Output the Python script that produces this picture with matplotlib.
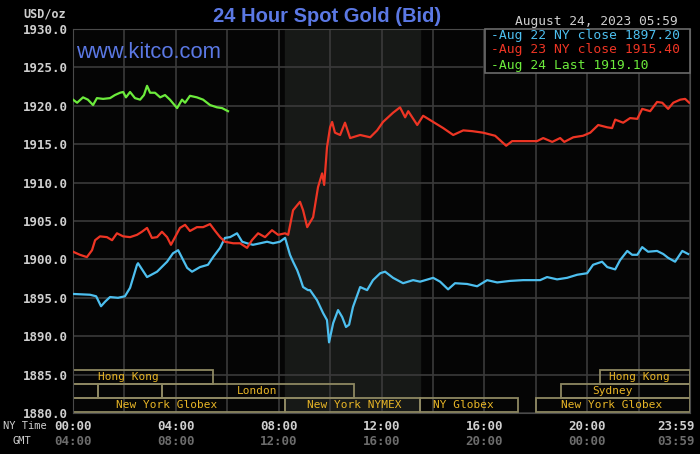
import numpy as np
import matplotlib
matplotlib.use('Agg')
import matplotlib.pyplot as plt
from matplotlib.patches import Rectangle

# Zeit in Stunden (NY time), Preise in USD/oz
t_aug22 = [0.00, 0.66, 0.90, 1.09, 1.25, 1.44, 1.75, 2.02, 2.22, 2.49, 2.53, 2.88, 3.27, 3.66,
           3.89, 4.09, 4.44, 4.63, 4.94, 5.25, 5.45, 5.72, 5.91, 6.11, 6.38, 6.58, 6.77, 7.00,
           7.28, 7.55, 7.78, 8.05, 8.25, 8.44, 8.56, 8.72, 8.83, 8.95, 9.14, 9.22, 9.49, 9.73,
           9.88, 9.96, 10.12, 10.31, 10.47, 10.62, 10.74, 10.89, 11.17, 11.44, 11.67, 11.95,
           12.14, 12.45, 12.84, 13.23, 13.50, 14.01, 14.28, 14.59, 14.86, 15.33, 15.72, 16.11,
           16.50, 17.00, 17.51, 18.17, 18.44, 18.83, 19.22, 19.61, 20.00, 20.23, 20.58, 20.78,
           21.09, 21.28, 21.56, 21.75, 21.95, 22.14, 22.37, 22.72, 22.96, 23.15, 23.42, 23.70, 23.93]
p_aug22 = [1895.5, 1895.4, 1895.2, 1893.9, 1894.5, 1895.1, 1895.0, 1895.2, 1896.3, 1899.3, 1899.5,
           1897.7, 1898.4, 1899.7, 1900.8, 1901.2, 1898.9, 1898.4, 1899.0, 1899.3, 1900.3, 1901.5,
           1902.8, 1902.9, 1903.4, 1902.3, 1902.1, 1901.9, 1902.1, 1902.3, 1902.1, 1902.3, 1902.8,
           1900.6, 1899.7, 1898.6, 1897.6, 1896.4, 1896.0, 1896.0, 1894.7, 1893.0, 1892.1, 1889.2,
           1891.7, 1893.4, 1892.5, 1891.2, 1891.5, 1893.8, 1896.4, 1896.0, 1897.3, 1898.2, 1898.4,
           1897.6, 1896.9, 1897.3, 1897.1, 1897.6, 1897.1, 1896.1, 1896.9, 1896.8, 1896.5, 1897.3,
           1897.0, 1897.2, 1897.3, 1897.3, 1897.7, 1897.4, 1897.6, 1898.0, 1898.2, 1899.3, 1899.7,
           1899.0, 1898.7, 1899.9, 1901.1, 1900.6, 1900.6, 1901.6, 1901.0, 1901.1, 1900.7, 1900.2,
           1899.7, 1901.1, 1900.7]

t_aug23 = [0.00, 0.27, 0.54, 0.74, 0.86, 1.05, 1.32, 1.52, 1.71, 1.95, 2.22, 2.49, 2.68, 2.88,
           3.07, 3.27, 3.46, 3.66, 3.81, 3.97, 4.16, 4.36, 4.55, 4.82, 5.06, 5.33, 5.53, 5.72,
           5.91, 6.23, 6.50, 6.77, 6.96, 7.20, 7.47, 7.74, 7.98, 8.25, 8.37, 8.56, 8.83, 8.95,
           9.11, 9.34, 9.53, 9.69, 9.77, 9.88, 10.00, 10.08, 10.19, 10.39, 10.58, 10.78, 11.17,
           11.56, 11.83, 12.06, 12.45, 12.72, 12.92, 13.04, 13.39, 13.62, 14.01, 14.40, 14.79,
           15.18, 15.53, 15.95, 16.42, 16.85, 17.08, 17.51, 18.05, 18.29, 18.64, 18.95, 19.11,
           19.46, 19.84, 20.12, 20.43, 20.78, 20.97, 21.09, 21.40, 21.67, 21.95, 22.14, 22.45,
           22.72, 22.92, 23.15, 23.35, 23.62, 23.81, 23.97]
p_aug23 = [1901.0, 1900.6, 1900.3, 1901.2, 1902.5, 1903.0, 1902.9, 1902.5, 1903.4, 1903.0, 1902.9,
           1903.2, 1903.6, 1904.1, 1902.8, 1902.9, 1903.6, 1902.9, 1901.9, 1902.9, 1904.1, 1904.5,
           1903.7, 1904.2, 1904.2, 1904.6, 1903.7, 1902.9, 1902.3, 1902.1, 1902.1, 1901.5, 1902.5,
           1903.4, 1902.9, 1903.8, 1903.2, 1903.4, 1903.2, 1906.4, 1907.5, 1906.4, 1904.2, 1905.5,
           1909.4, 1911.2, 1909.7, 1914.6, 1917.2, 1917.9, 1916.5, 1916.2, 1917.8, 1915.8, 1916.2,
           1915.9, 1916.8, 1917.9, 1919.1, 1919.8, 1918.5, 1919.3, 1917.5, 1918.7, 1917.9, 1917.1,
           1916.2, 1916.8, 1916.7, 1916.5, 1916.1, 1914.8, 1915.4, 1915.4, 1915.4, 1915.8, 1915.3,
           1915.8, 1915.3, 1915.9, 1916.1, 1916.5, 1917.5, 1917.2, 1917.1, 1918.2, 1917.8, 1918.4,
           1918.3, 1919.6, 1919.3, 1920.5, 1920.4, 1919.6, 1920.4, 1920.8, 1920.9, 1920.4]

t_aug24 = [0.00, 0.16, 0.39, 0.58, 0.78, 0.93, 1.17, 1.44, 1.63, 1.83, 1.95, 2.06, 2.22, 2.41,
           2.61, 2.76, 2.88, 3.00, 3.19, 3.39, 3.58, 3.77, 4.05, 4.24, 4.36, 4.55, 4.82, 5.06,
           5.33, 5.60, 5.80, 6.03]
p_aug24 = [1920.8, 1920.4, 1921.1, 1920.8, 1920.1, 1921.0, 1920.9, 1921.0, 1921.4, 1921.7, 1921.8,
           1921.1, 1921.8, 1921.0, 1920.8, 1921.4, 1922.6, 1921.7, 1921.7, 1921.1, 1921.4, 1920.8,
           1919.7, 1920.8, 1920.4, 1921.3, 1921.1, 1920.8, 1920.1, 1919.8, 1919.7, 1919.3]

legend_txt = ['-Aug 22 NY close 1897.20', '-Aug 23 NY close 1915.40', '-Aug 24 Last 1919.10']

# Handelszeiten: (Zeile, Start, Ende, Name, Textposition)
sessions = [(0, 0.00, 5.45, 'Hong Kong', 2.14),
            (0, 20.50, 24.0, 'Hong Kong', 22.05),
            (1, 0.00, 0.97, '', 0),
            (1, 0.97, 3.46, '', 0),
            (1, 3.46, 10.93, 'London', 7.16),
            (1, 19.00, 24.0, 'Sydney', 20.97),
            (2, 0.00, 8.25, 'New York Globex', 3.66),
            (2, 8.25, 13.50, 'New York NYMEX', 10.93),
            (2, 13.50, 17.30, 'NY Globex', 15.18),
            (2, 18.00, 24.0, 'New York Globex', 20.97)]
nymex = (8.25, 13.5)

x_ticks = [0, 4, 8, 12, 16, 20, 23.45]
ny_labels = ['00:00', '04:00', '08:00', '12:00', '16:00', '20:00', '23:59']
gmt_labels = ['04:00', '08:00', '12:00', '16:00', '20:00', '00:00', '03:59']

c_blue = '#4DBFEF'
c_red = '#EE3524'
c_green = '#6CEB3C'
c_title = '#5B78E4'
c_grid = '#3a3a3a'
c_tick = '#cfcfcf'
c_gmt = '#6c6c6c'
c_box = '#8e8862'
c_gold = '#E8B526'
mono = 'DejaVu Sans Mono'

W, H = 700, 454
fig = plt.figure(figsize=(7, 4.54), dpi=100, facecolor='black')
ax = fig.add_axes([73/W, 1-413/H, 617/W, 384/H], facecolor='#050505')

def fpx(x, y):
    return x/W, 1-y/H

ax.axvspan(nymex[0], nymex[1], color='#171917', zorder=0)
ax.set_xlim(0, 24)
ax.set_ylim(1880, 1930)
ax.set_xticks(np.arange(0, 25, 2))
ax.set_xticklabels([])
ax.set_yticks(np.arange(1880, 1931, 5))
ax.set_yticklabels(['%.1f' % v for v in np.arange(1880, 1931, 5)],
                   fontfamily=mono, fontweight='bold', fontsize=9, color=c_tick)
ax.tick_params(length=0, pad=4)
ax.grid(color=c_grid, linewidth=1.2, zorder=1)
ax.set_axisbelow(True)
for s in ax.spines.values():
    s.set_color('#4a4a4a')

ax.plot(t_aug22, p_aug22, color=c_blue, lw=1.6, zorder=3)
ax.plot(t_aug23, p_aug23, color=c_red, lw=1.6, zorder=3)
ax.plot(t_aug24, p_aug24, color=c_green, lw=1.6, zorder=3)

# Handelszeiten-Balken unten
tr = ax.get_xaxis_transform()
row_h = 0.0365
for row, a, b, name, xt in sessions:
    y0 = 0.0015 + (2-row)*row_h
    ax.add_patch(Rectangle((a, y0), b-a, row_h, transform=tr, fill=False,
                           edgecolor=c_box, lw=1.3, zorder=2))
    if name:
        ax.text(xt, y0+row_h/2, name, transform=tr, ha='center', va='center',
                fontfamily=mono, fontsize=8, color=c_gold, zorder=4)

# Achsenbeschriftung unten
for xv, l1, l2 in zip(x_ticks, ny_labels, gmt_labels):
    ax.text(xv, -0.034, l1, transform=tr, ha='center', va='center', fontfamily=mono,
            fontweight='bold', fontsize=9, color=c_tick, clip_on=False)
    ax.text(xv, -0.073, l2, transform=tr, ha='center', va='center', fontfamily=mono,
            fontweight='bold', fontsize=9, color=c_gmt, clip_on=False)
fig.text(*fpx(25, 426), 'NY Time', ha='center', va='center', fontfamily=mono,
         fontsize=7.5, color=c_tick)
fig.text(*fpx(22, 441), 'GMT', ha='center', va='center', fontfamily=mono,
         fontsize=7.5, color=c_tick)

fig.text(*fpx(45, 14), 'USD/oz', ha='center', va='center', fontfamily=mono,
         fontweight='bold', fontsize=8.5, color=c_tick)
fig.text(*fpx(327, 16), '24 Hour Spot Gold (Bid)', ha='center', va='center',
         fontfamily='Liberation Sans', fontweight='bold', fontsize=14.5, color=c_title)
fig.text(*fpx(76, 53), 'www.kitco.com', ha='left', va='center',
         fontfamily='Liberation Sans', fontsize=15.8, color=c_title)
fig.text(*fpx(678, 21), 'August 24, 2023 05:59', ha='right', va='center',
         fontfamily=mono, fontsize=9.3, color=c_tick)

# Legende
fig.add_artist(Rectangle(fpx(485, 73), 205/W, 44/H, transform=fig.transFigure,
                         facecolor='black', edgecolor='#6a6a6a', lw=1.2, zorder=5))
for i, (txt, c) in enumerate(zip(legend_txt, [c_blue, c_red, c_green])):
    fig.text(*fpx(491, 35 + 15*i), txt, ha='left', va='center', fontfamily=mono,
             fontsize=9.4, color=c, zorder=6)

fig.savefig('out.png', dpi=100, facecolor='black')
plt.close(fig)
